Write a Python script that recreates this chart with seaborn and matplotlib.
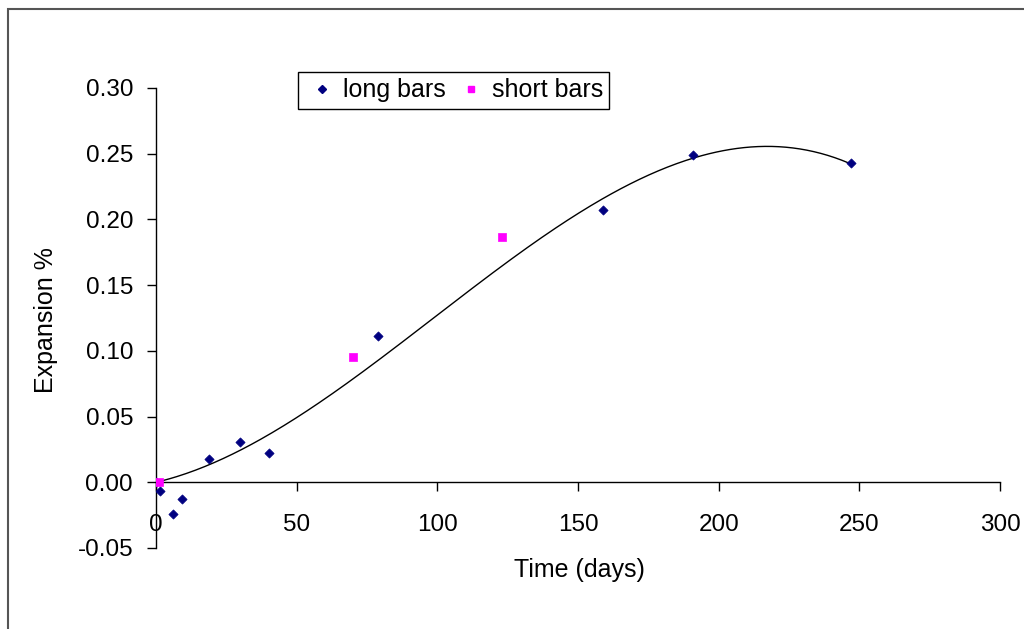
import numpy as np
import pandas as pd
import matplotlib
matplotlib.use("Agg")
import matplotlib.pyplot as plt
from matplotlib.patches import Rectangle
from matplotlib.lines import Line2D
import seaborn as sns

# Expansion measurements over time
long_days = [0, 1.4, 6.2, 9.2, 19, 30, 40, 79, 159, 191, 247]
long_exp = [0.0, -0.007, -0.024, -0.013, 0.018, 0.031, 0.022, 0.111, 0.207, 0.249, 0.243]
short_days = [1, 70, 123]
short_exp = [0.0, 0.095, 0.187]

x_ticks = [0, 50, 100, 150, 200, 250, 300]
y_ticks = [-0.05, 0.00, 0.05, 0.10, 0.15, 0.20, 0.25, 0.30]

sns.set_style("white")
plt.rcParams["font.family"] = ["Liberation Sans", "DejaVu Sans"]
plt.rcParams["text.color"] = "black"
plt.rcParams["axes.labelcolor"] = "black"

long_df = pd.DataFrame({"days": long_days, "exp": long_exp})
short_df = pd.DataFrame({"days": short_days, "exp": short_exp})

# cubic trend through the origin, least squares on the long-bar series
xd = np.asarray(long_days, float)
design = np.column_stack([xd, xd ** 2, xd ** 3])
coef, *_ = np.linalg.lstsq(design, np.asarray(long_exp, float), rcond=None)
xs = np.linspace(0, max(long_days), 300)
trend_df = pd.DataFrame({"days": xs,
                         "exp": coef[0] * xs + coef[1] * xs ** 2 + coef[2] * xs ** 3})

fig = plt.figure(figsize=(10.24, 6.29), dpi=100)
ax = fig.add_axes([156 / 1024, 1 - 548 / 629, 844 / 1024, 460 / 629])

sns.lineplot(data=trend_df, x="days", y="exp", ax=ax, color="black", lw=1.0,
             estimator=None, sort=False)

sns.scatterplot(data=long_df, x="days", y="exp", ax=ax, marker="D", s=22,
                color="#000080", edgecolor="#000080", linewidth=0.5, zorder=3)
sns.scatterplot(data=short_df, x="days", y="exp", ax=ax, marker="s", s=28,
                color="#FF00FF", edgecolor="#FF00FF", linewidth=0.5, zorder=4)

ax.set_xlim(0, 300)
ax.set_ylim(-0.05, 0.30)
ax.set_xticks(x_ticks)
ax.set_yticks(y_ticks)
ax.set_xticklabels([f"{v:d}" for v in x_ticks])
ax.set_yticklabels([f"{v:.2f}" for v in y_ticks])

for s in ("top", "right"):
    ax.spines[s].set_visible(False)
ax.spines["bottom"].set_position(("data", 0))
for s in ("left", "bottom"):
    ax.spines[s].set_color("black")
    ax.spines[s].set_linewidth(1.0)

ax.tick_params(axis="both", which="major", direction="out", length=6.5, width=1.0,
               color="black", labelsize=17.5, labelcolor="black",
               bottom=True, left=True)
ax.tick_params(axis="x", pad=16)
ax.tick_params(axis="y", pad=10)

ax.set_xlabel("Time (days)", fontsize=18, color="black")
ax.set_ylabel("Expansion %", fontsize=18, color="black")
ax.xaxis.set_label_coords(0.502, -0.022)
ax.yaxis.set_label_coords(-0.116, 0.496)

handles = [
    Line2D([], [], marker="D", color="#000080", linestyle="none", markersize=4),
    Line2D([], [], marker="s", color="#FF00FF", linestyle="none", markersize=4.5),
]
leg = fig.legend(handles, ["long bars", "short bars"], loc="upper left",
                 bbox_to_anchor=(298 / 1024, 1 - 72 / 629), ncol=2, fontsize=18,
                 frameon=True, fancybox=False, framealpha=1, edgecolor="black",
                 handlelength=1.44, handletextpad=0.1, columnspacing=0.3,
                 borderpad=0.25, borderaxespad=0)
leg.get_frame().set_linewidth(1.0)
for t in leg.get_texts():
    t.set_color("black")

# outer chart border
fig.patches.append(Rectangle((8 / 1024, -0.1), 1.2, 1 - 9.5 / 629 + 0.1,
                             transform=fig.transFigure, fill=False,
                             edgecolor="#555555", linewidth=1.5))

fig.savefig("out.png", dpi=100, facecolor="white")
